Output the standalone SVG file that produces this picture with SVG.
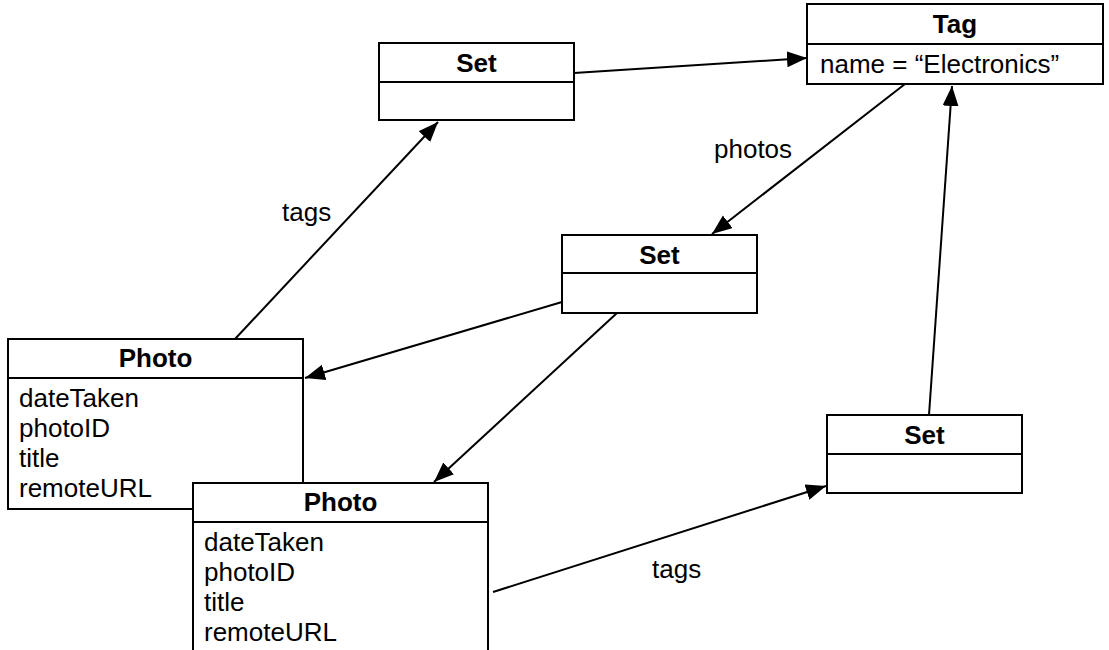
<svg xmlns="http://www.w3.org/2000/svg" width="1109" height="650" viewBox="0 0 1109 650">
<style>
.box{fill:#fff;stroke:#000;stroke-width:2}
.div{stroke:#000;stroke-width:2}
.hd{font-family:"Liberation Sans",Arial,sans-serif;font-size:26px;font-weight:bold;text-anchor:middle;fill:#000}
.at{font-family:"Liberation Sans",Arial,sans-serif;font-size:26px;fill:#000}
.lbl{font-family:"Liberation Sans",Arial,sans-serif;font-size:26px;fill:#000}
.edge{stroke:#000;stroke-width:2;fill:none;marker-end:url(#arr)}
</style>
<defs>
<marker id="arr" markerUnits="userSpaceOnUse" markerWidth="22" markerHeight="18" refX="20" refY="8" orient="auto">
<path d="M0,0 L20,8 L0,16 z" fill="#000"/>
</marker>
</defs>
<rect width="1109" height="650" fill="#fff"/>
<g id="connectors">
<line class="edge" x1="574" y1="73" x2="807" y2="58"/>
<line class="edge" x1="235" y1="339" x2="438" y2="122"/>
<line class="edge" x1="905" y1="84" x2="712" y2="234"/>
<line class="edge" x1="562" y1="302" x2="305" y2="378"/>
<line class="edge" x1="617" y1="313" x2="434" y2="482"/>
<line class="edge" x1="929" y1="415" x2="952" y2="86"/>
<line class="edge" x1="493" y1="592" x2="826" y2="486"/>
<text class="lbl" x="282" y="221">tags</text>
<text class="lbl" x="714" y="158">photos</text>
<text class="lbl" x="652" y="578">tags</text>
</g>
<g id="set1">
<rect class="box" x="379" y="43" width="195" height="77"/>
<line class="div" x1="379" y1="82" x2="574" y2="82"/>
<text class="hd" x="476.5" y="72">Set</text>
</g>
<g id="tag">
<rect class="box" x="807" y="4" width="296" height="80"/>
<line class="div" x1="807" y1="44" x2="1103" y2="44"/>
<text class="hd" x="955" y="33">Tag</text>
<text class="at" x="820" y="73">name = “Electronics”</text>
</g>
<g id="set2">
<rect class="box" x="562" y="235" width="195" height="78"/>
<line class="div" x1="562" y1="273" x2="757" y2="273"/>
<text class="hd" x="659.5" y="264">Set</text>
</g>
<g id="set3">
<rect class="box" x="827" y="415" width="195" height="78"/>
<line class="div" x1="827" y1="454" x2="1022" y2="454"/>
<text class="hd" x="924.5" y="444">Set</text>
</g>
<g id="photo1">
<rect class="box" x="8" y="339" width="295" height="170"/>
<line class="div" x1="8" y1="378" x2="303" y2="378"/>
<text class="hd" x="155.5" y="367">Photo</text>
<text class="at" x="19" y="407">dateTaken</text>
<text class="at" x="19" y="437">photoID</text>
<text class="at" x="19" y="467">title</text>
<text class="at" x="19" y="497">remoteURL</text>
</g>
<g id="photo2">
<rect class="box" x="193" y="483" width="295" height="180"/>
<line class="div" x1="193" y1="522" x2="488" y2="522"/>
<text class="hd" x="340.5" y="511">Photo</text>
<text class="at" x="204" y="551">dateTaken</text>
<text class="at" x="204" y="581">photoID</text>
<text class="at" x="204" y="611">title</text>
<text class="at" x="204" y="641">remoteURL</text>
</g>
</svg>
